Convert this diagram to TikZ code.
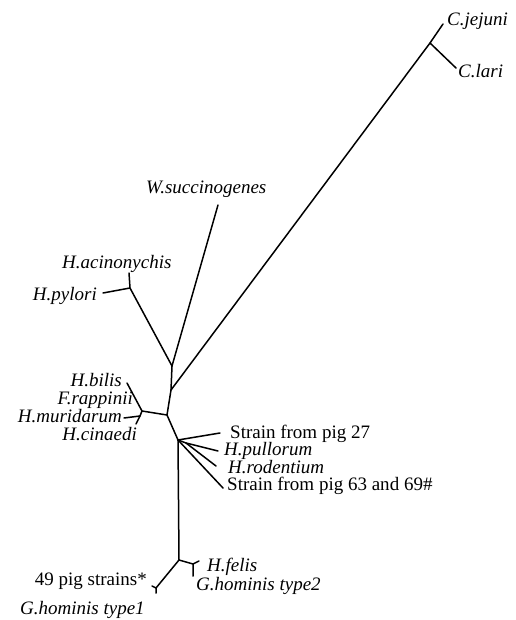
\documentclass[tikz,border=0pt]{standalone}
\usepackage{fontspec}
\setmainfont{Liberation Serif}
\begin{document}
\begin{tikzpicture}[x=1pt,y=-1pt,
  br/.style={line width=1.5pt, line cap=round, line join=round},
  lab/.style={inner sep=0pt, font=\fontsize{19}{23}\selectfont\itshape},
  labu/.style={inner sep=0pt, font=\fontsize{19}{23}\selectfont}]
\useasboundingbox (0,0) rectangle (515,620);
% internal points and tips
\coordinate (jC) at (430,43);
\coordinate (tCj) at (443,24);
\coordinate (tCl) at (456,68);
\coordinate (nC) at (171,390);
\coordinate (nWP) at (172,366);
\coordinate (tW) at (218,205);
\coordinate (jP) at (130,288);
\coordinate (tPa) at (129,273);
\coordinate (tPp) at (103,293);
\coordinate (nR) at (167,415);
\coordinate (nB) at (142,411);
\coordinate (tBi) at (127,383);
\coordinate (jFM) at (140,416);
\coordinate (tMu) at (124,418);
\coordinate (tCi) at (136,424);
\coordinate (nS) at (178,440);
\coordinate (tS27) at (220,433);
\coordinate (n2) at (186,443);
\coordinate (tPu) at (218,451);
\coordinate (tRo) at (216,466);
\coordinate (tS63) at (223,488);
\coordinate (nBot) at (179,560);
\coordinate (jF) at (193,564);
\coordinate (tFe) at (199,561);
\coordinate (tG2) at (193,576);
\coordinate (jG1) at (156,588);
\coordinate (tP49) at (152,586);
\coordinate (tG1) at (156,593);
% branches
\draw[br] (tCj) -- (jC) -- (tCl);
\draw[br] (jC) -- (nC);
\draw[br] (tW) -- (nWP);
\draw[br] (tPa) -- (jP) -- (tPp);
\draw[br] (jP) -- (nWP);
\draw[br] (nWP) -- (nC) -- (nR);
\draw[br] (nR) -- (nB) -- (tBi);
\draw[br] (nB) -- (jFM) -- (tMu);
\draw[br] (jFM) -- (tCi);
\draw[br] (nR) -- (nS);
\draw[br] (nS) -- (tS27);
\draw[br] (nS) -- (tS63);
\draw[br] (nS) -- (n2) -- (tPu);
\draw[br] (n2) -- (tRo);
\draw[br] (nS) -- (nBot);
\draw[br] (nBot) -- (jF);
\draw[br] (tFe) -- (jF) -- (tG2);
\draw[br] (nBot) -- (jG1);
\draw[br] (tP49) -- (jG1) -- (tG1);
% labels
\node[lab, anchor=base west] (lCj) at (447,26) {C.jejuni};
\node[lab, anchor=base west] (lCl) at (458,78) {C.lari};
\node[lab, anchor=base west] (lW) at (146,194) {W.succinogenes};
\node[lab, anchor=base west] (lPa) at (62,268) {H.acinonychis};
\node[lab, anchor=base east] (lPp) at (97,300) {H.pylori};
\node[lab, anchor=base east] (lBi) at (122,386) {H.bilis};
\node[lab, anchor=base east] (lFr) at (133,404) {F.rappinii};
\node[lab, anchor=base east] (lMu) at (122,422) {H.muridarum};
\node[lab, anchor=base east] (lCi) at (137,440) {H.cinaedi};
\node[labu, anchor=base west] (lS27) at (230,438) {Strain from pig 27};
\node[lab, anchor=base west] (lPu) at (224,455.5) {H.pullorum};
\node[lab, anchor=base west] (lRo) at (228,473) {H.rodentium};
\node[labu, anchor=base west] (lS63) at (227,490.5) {Strain from pig 63 and 69\#};
\node[labu, anchor=base east] (l49) at (147,585) {49 pig strains*};
\node[lab, anchor=base west] (lG1) at (20,614) {G.hominis type1};
\node[lab, anchor=base west] (lFe) at (207,571) {H.felis};
\node[lab, anchor=base west] (lG2) at (196,590) {G.hominis type2};
\end{tikzpicture}
\end{document}
